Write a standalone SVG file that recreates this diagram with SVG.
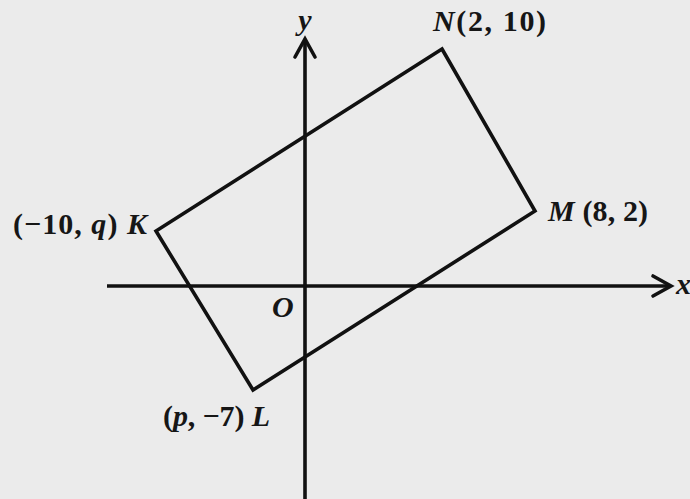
<svg xmlns="http://www.w3.org/2000/svg" width="690" height="499" viewBox="0 0 690 499">
<style>
.ln{fill:none;stroke:#111;stroke-width:3.6;stroke-linejoin:miter;stroke-linecap:butt}
.ah{fill:none;stroke:#111;stroke-width:3.6;stroke-linejoin:miter;stroke-linecap:round}
.t{font-family:"Liberation Serif","Times New Roman",serif;font-weight:bold;font-size:30px;fill:#161616}
.i{font-style:italic}
</style>
<rect width="690" height="499" fill="#ebebeb"/>
<g id="axes">
<line class="ln" x1="107" y1="286" x2="670" y2="286"/>
<polyline class="ah" points="653,276 671,286 653,296"/>
<line class="ln" x1="305" y1="40" x2="305" y2="499"/>
<polyline class="ah" points="295,57 305,39 315,57"/>
<text class="t i" x="676" y="294" font-size="26">x</text>
<text class="t i" x="305" y="30" text-anchor="middle" font-size="27">y</text>
<text class="t i" x="272" y="317" font-size="29">O</text>
</g>
<g id="rectangle">
<polygon class="ln" points="442,49 535,211 253,390 156,231"/>
</g>
<g id="node-N"><text class="t" x="433" y="31" textLength="113" lengthAdjust="spacing"><tspan class="i">N</tspan>(2, 10)</text></g>
<g id="node-M"><text class="t" x="548" y="221" textLength="100" lengthAdjust="spacing"><tspan class="i">M</tspan> (8, 2)</text></g>
<g id="node-K"><text class="t" x="13" y="234" textLength="134" lengthAdjust="spacing">(−10, <tspan class="i">q</tspan>) <tspan class="i">K</tspan></text></g>
<g id="node-L"><text class="t" x="163" y="426" textLength="107" lengthAdjust="spacing">(<tspan class="i">p</tspan>, −7) <tspan class="i">L</tspan></text></g>
</svg>
